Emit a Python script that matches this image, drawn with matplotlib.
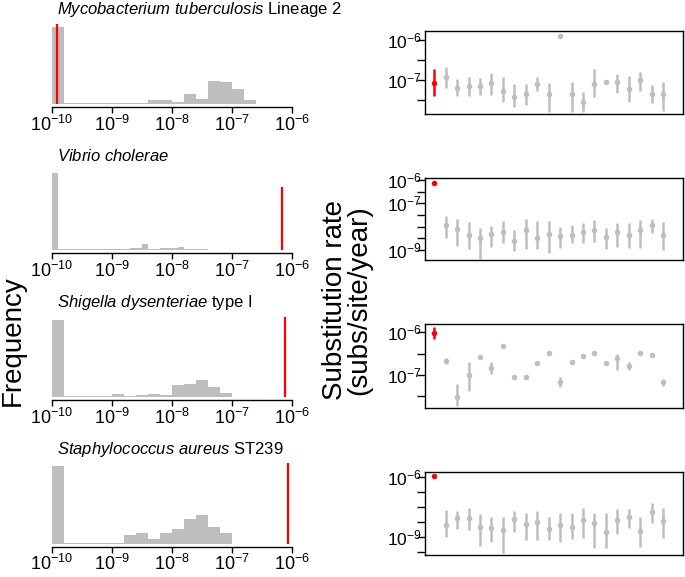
import numpy as np
import matplotlib
matplotlib.use('Agg')
import matplotlib.pyplot as plt

plt.rcParams['font.family'] = ['Liberation Sans', 'DejaVu Sans']
plt.rcParams['mathtext.fontset'] = 'custom'
plt.rcParams['mathtext.rm'] = 'Liberation Sans'
plt.rcParams['mathtext.it'] = 'Liberation Sans:italic'
plt.rcParams['mathtext.default'] = 'regular'

grigio = '#bebebe'
rosso = '#ff0000'

# titoli dei pannelli
titoli = [r'$\mathit{Mycobacterium\ tuberculosis}$ Lineage 2',
          r'$\mathit{Vibrio\ cholerae}$',
          r'$\mathit{Shigella\ dysenteriae}$ type I',
          r'$\mathit{Staphylococcus\ aureus}$ ST239']

# istogrammi (log10 del tasso), bin che partono da -10
larghezza_bin = [0.2, 0.1, 0.2, 0.2]
freq_1 = [100, 1.3, 1.3, 1.3, 1.3, 1.3, 1.3, 1.3, 4.7, 4.7, 2.6, 12.9, 6.9, 30, 28, 19.3, 5.2]
freq_2 = [100, 1.3, 1.3, 1.3, 1.3, 2, 2, 1.3, 1.3, 1.3, 1.3, 1.5, 1.5, 2.6, 2.6, 8.3,
          1.3, 1.3, 3.5, 3.5, 3, 3.9, 2.2, 2.2, 1.3, 1.3]
freq_3 = [100, 1, 1, 1, 1, 4.3, 1, 2.6, 4.3, 2.6, 15.5, 16.8, 22.4, 13.4, 5.6]
freq_4 = [100, 1, 1, 1, 1, 1, 10.8, 13.4, 6, 13.4, 19, 32, 37, 21.5, 13.4]
frequenze = [freq_1, freq_2, freq_3, freq_4]

# linea rossa: tasso osservato
rossa_x = [-9.92, -6.17, -6.12, -6.06]
rossa_alt = [104, 82.5, 104, 105]

# pannelli di destra: stime (log10) con intervalli
centro_1 = [-7.07, -6.93, -7.19, -7.14, -7.14, -7.08, -7.275, -7.42, -7.36, -7.1, -7.35,
            -5.89, -7.35, -7.56, -7.1, -7.06, -7.04, -7.23, -7.0, -7.36, -7.35]
alto_1 = [-6.725, -6.675, -6.98, -6.93, -6.95, -6.83, -6.92, -7.11, -7.11, -6.92, -7.07,
          -5.89, -7.04, -7.29, -6.72, -7.06, -6.85, -6.89, -6.79, -7.13, -7.04]
basso_1 = [-7.39, -7.19, -7.4, -7.4, -7.37, -7.37, -7.56, -7.68, -7.62, -7.28, -7.79,
           -5.89, -7.79, -7.79, -7.43, -7.06, -7.33, -7.56, -7.27, -7.58, -7.77]

centro_2 = [-6.14, -7.93, -8.11, -8.37, -8.47, -8.33, -8.23, -8.61, -8.16, -8.5, -8.31,
            -8.39, -8.36, -8.24, -8.14, -8.43, -8.21, -8.36, -8.14, -7.93, -8.36]
alto_2 = [-6.14, -7.54, -7.67, -7.81, -8.04, -7.96, -7.76, -8.14, -7.67, -7.76, -7.76,
          -8.03, -7.93, -7.83, -7.71, -8.04, -7.83, -7.83, -7.71, -7.67, -7.79]
basso_2 = [-6.14, -8.47, -8.81, -8.97, -9.39, -8.89, -8.71, -9.03, -8.97, -8.97, -9.11,
           -8.93, -8.71, -8.69, -8.64, -8.96, -8.89, -8.9, -8.93, -8.26, -9.0]

centro_3 = [-6.01, -6.66, -7.51, -7.0, -6.57, -6.84, -6.32, -7.05, -7.05, -6.71, -6.48,
            -7.16, -6.69, -6.55, -6.49, -6.71, -6.59, -6.78, -6.49, -6.52, -7.16]
alto_3 = [-5.88, -6.59, -7.2, -6.69, -6.57, -6.69, -6.32, -7.05, -7.05, -6.71, -6.48,
          -7.05, -6.69, -6.55, -6.49, -6.71, -6.51, -6.69, -6.49, -6.52, -7.08]
basso_3 = [-6.16, -6.75, -7.73, -7.375, -6.57, -6.98, -6.32, -7.05, -7.05, -6.71, -6.48,
           -7.29, -6.69, -6.55, -6.49, -6.71, -6.87, -6.87, -6.49, -6.52, -7.26]

centro_4 = [-5.97, -8.42, -8.05, -8.05, -8.5, -8.55, -8.67, -8.12, -8.38, -8.28, -8.62,
            -8.42, -8.5, -8.17, -8.33, -8.75, -8.17, -8.03, -8.7, -7.75, -8.2]
alto_4 = [-5.97, -7.67, -7.7, -7.58, -7.88, -8.03, -8.0, -7.7, -7.8, -7.72, -8.0,
          -7.83, -7.83, -7.58, -7.83, -7.8, -7.63, -7.62, -8.03, -7.33, -7.55]
basso_4 = [-5.97, -9.0, -8.62, -8.67, -9.47, -9.28, -9.8, -8.75, -9.17, -9.17, -9.17,
           -9.28, -9.13, -9.08, -9.58, -9.58, -8.88, -8.58, -9.5, -8.3, -9.08]

centri = [centro_1, centro_2, centro_3, centro_4]
alti = [alto_1, alto_2, alto_3, alto_4]
bassi = [basso_1, basso_2, basso_3, basso_4]

# assi di destra: limiti, tacche e etichette
lim_y = [(-7.85, -5.775), (-9.43, -5.93), (-7.77, -5.805), (-9.92, -5.78)]
tacche = [[-7.5, -7, -6.5, -6], list(np.arange(-9, -5.9, 0.5)), [-7.5, -7, -6.5, -6],
          [-9.75, -9, -8.25, -7.5, -6.75, -6]]
etichette_ok = [[-7, -6], [-9, -7, -6], [-7, -6], [-9, -6]]

W, H = 685, 577
fig = plt.figure(figsize=(W / 100, H / 100), dpi=100)

# posizioni in pixel (dall'alto)
fondo_hist = [107, 253.3, 400, 546.7]
alt_hist = 88
box_dx = [(31, 114), (178.3, 260), (324, 408), (472.3, 555)]

for i in range(4):
    # istogramma
    ax = fig.add_axes([46 / W, 1 - fondo_hist[i] / H, 252 / W, alt_hist / H])
    h = frequenze[i]
    w = larghezza_bin[i]
    bordi = -10 + w * np.arange(len(h))
    ax.bar(bordi, h, width=w, align='edge', color=grigio, linewidth=0)
    ax.vlines(rossa_x[i], 0, rossa_alt[i], color=rosso, lw=1.6)
    ax.set_xlim(-10.1, -5.9)
    ax.set_ylim(-4, 110)
    for s in ['top', 'right', 'left']:
        ax.spines[s].set_visible(False)
    ax.spines['bottom'].set_bounds(-10, -6)
    ax.spines['bottom'].set_linewidth(1.0)
    ax.set_yticks([])
    xt = np.arange(-10, -5, 1)
    ax.set_xticks(xt)
    ax.set_xticklabels([f'$10^{{{int(t)}}}$' for t in xt])
    ax.tick_params(axis='x', length=4, width=1.0, pad=1.5, labelsize=13)
    # titolo
    fig.text(57 / W, 1 - (fondo_hist[i] - 97.5) / H, titoli[i], ha='left', va='center',
             fontsize=12)

    # stime a destra
    ax2 = fig.add_axes([425 / W, 1 - box_dx[i][1] / H, 258 / W, (box_dx[i][1] - box_dx[i][0]) / H])
    x = np.arange(1, 22)
    c = np.array(centri[i])
    lo = np.array(bassi[i])
    hi = np.array(alti[i])
    ax2.vlines(x[1:], lo[1:], hi[1:], color=grigio, lw=1.8)
    ax2.plot(x[1:], c[1:], 'o', color=grigio, ms=4, mec='none')
    ax2.vlines(x[:1], lo[:1], hi[:1], color=rosso, lw=1.8)
    ax2.plot(x[:1], c[:1], 'o', color=rosso, ms=4, mec='none')
    ax2.set_xlim(0.19, 22.74)
    ax2.set_ylim(*lim_y[i])
    ax2.set_xticks([])
    ax2.set_yticks(tacche[i])
    ax2.set_yticklabels([f'$10^{{{int(round(t))}}}$' if any(abs(t - e) < 1e-6 for e in etichette_ok[i])
                         else '' for t in tacche[i]])
    ax2.tick_params(axis='y', length=5.5, width=1.0, pad=-3, labelsize=12.5)
    for s in ax2.spines.values():
        s.set_linewidth(1.0)

fig.text(13 / W, 1 - 341 / H, 'Frequency', rotation=90, ha='center', va='center', fontsize=20)
fig.text(347 / W, 1 - 300 / H, 'Substitution rate\n(subs/site/year)', rotation=90,
         ha='center', va='center', fontsize=20, linespacing=0.95)

fig.savefig('out.png', dpi=100)
